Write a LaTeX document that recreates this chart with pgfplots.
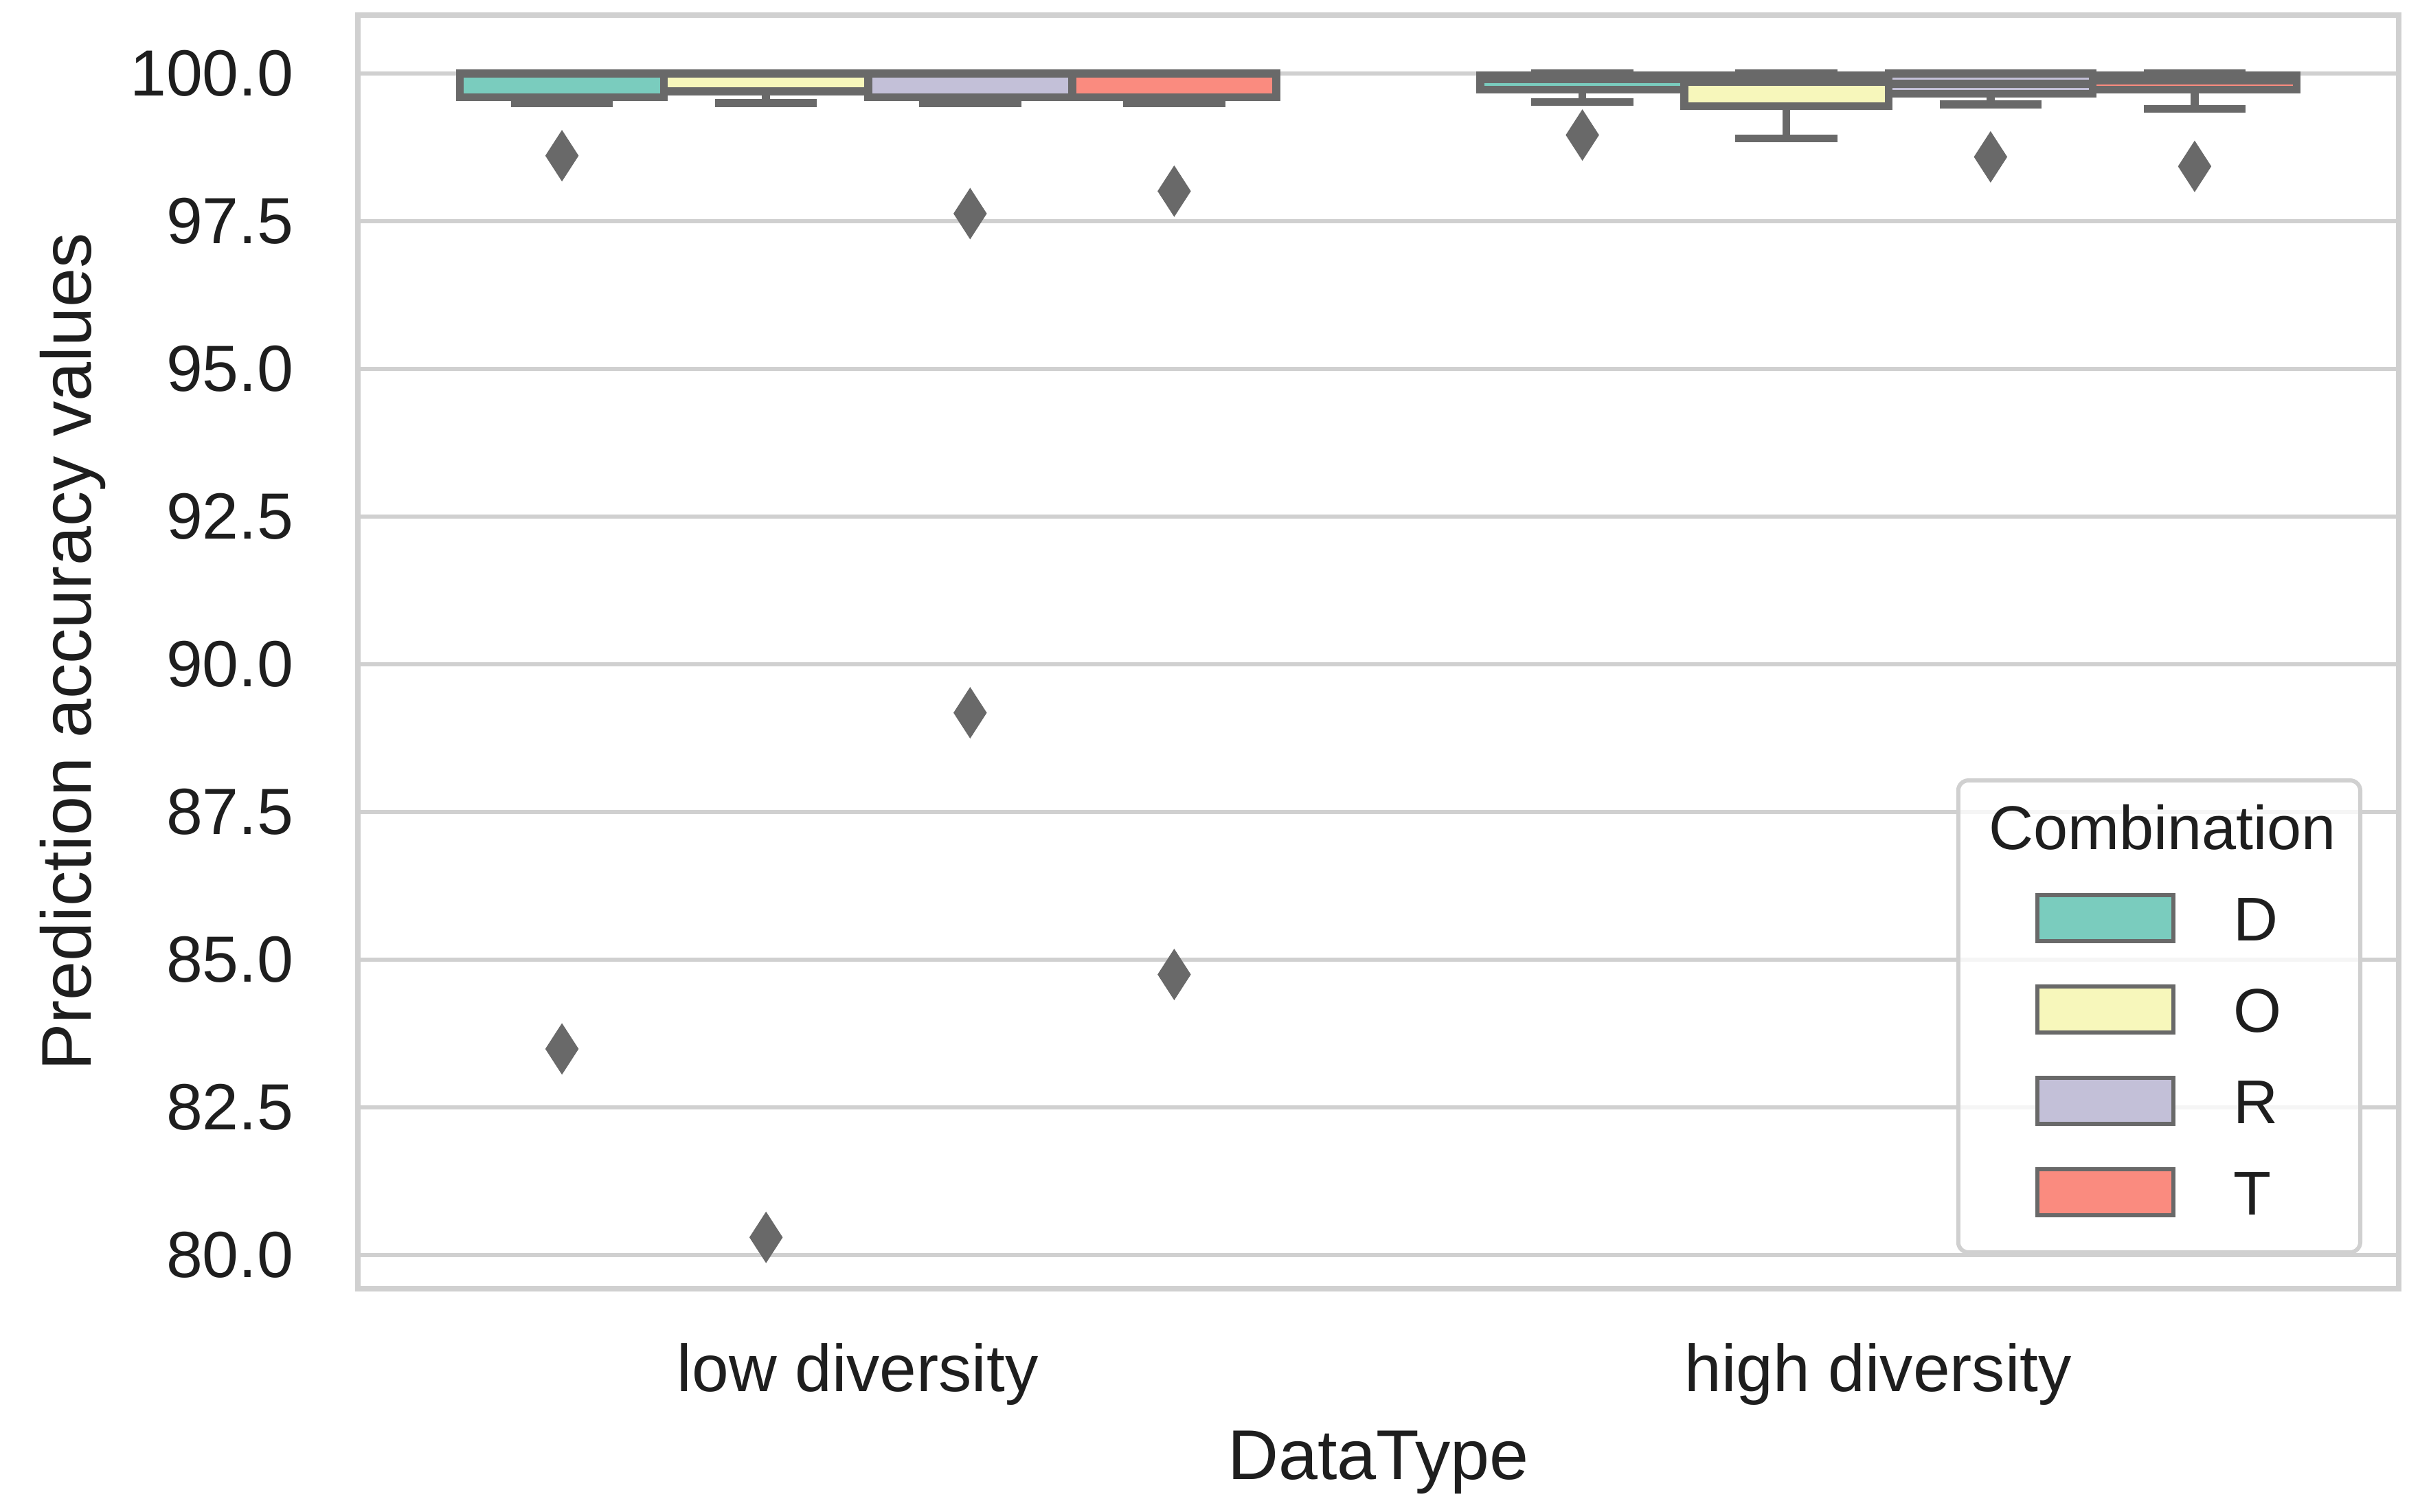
\documentclass[border=0pt]{standalone}
\usepackage{fontspec}
\setmainfont{Liberation Sans}
\usepackage{pgfplots}
\pgfplotsset{compat=1.18}

\definecolor{setD}{RGB}{122,204,190}
\definecolor{setO}{RGB}{247,247,187}
\definecolor{setR}{RGB}{195,192,216}
\definecolor{setT}{RGB}{250,139,127}
\definecolor{boxgray}{RGB}{105,105,105}
\definecolor{gridgray}{RGB}{208,208,208}
\definecolor{txt}{RGB}{30,30,30}

% thin diamond, as seaborn's "d" flier
\pgfdeclareplotmark{thindiamond}{%
  \pgfpathmoveto{\pgfqpoint{0pt}{7.5pt}}%
  \pgfpathlineto{\pgfqpoint{4.85pt}{0pt}}%
  \pgfpathlineto{\pgfqpoint{0pt}{-7.5pt}}%
  \pgfpathlineto{\pgfqpoint{-4.85pt}{0pt}}%
  \pgfpathclose
  \pgfusepathqfill}

\pgfplotsset{
  boxbody/.style={forget plot, fill=#1, draw=boxgray, line width=2.3pt},
  boxline/.style={forget plot, draw=boxgray, line width=2.3pt, mark=none},
  flier/.style={forget plot, only marks, mark=thindiamond, color=boxgray,
    mark options={fill=boxgray}},
  legpatch/.style={legend image code/.code={
    \draw[sharp corners, opacity=1, draw=boxgray, fill=#1, line width=1.2pt]
      (0pt,-4.7pt) rectangle (39.5pt,8.8pt);
    \path (-15.5pt,0pt) (56.5pt,0pt);}},
}

\begin{document}
\begin{tikzpicture}
\begin{axis}[
  name=ax,
  scale only axis, width=594.2pt, height=370.8pt,
  xmin=-0.5, xmax=1.5, ymin=79.43, ymax=100.99,
  unbounded coords=jump,
  xtick={0,1}, xticklabels={low diversity, high diversity},
  ytick={80,82.5,...,100},
  /pgf/number format/assume math mode=true,
  y tick label style={/pgf/number format/fixed, /pgf/number format/fixed zerofill,
    /pgf/number format/precision=1},
  tick style={draw=none},
  ymajorgrids, grid style={gridgray, line width=1.3pt},
  axis line style={gridgray, line width=1.6pt},
  xticklabel style={anchor=base, yshift=-29.8pt, xshift=-3pt, font=\fontsize{19.3}{22}\selectfont, text=txt},
  yticklabel style={anchor=east, inner sep=0pt, xshift=-18.6pt, font=\fontsize{19}{22}\selectfont, text=txt},
  xlabel={DataType}, ylabel={Prediction accuracy values},
  xlabel style={at={(axis description cs:0.5,0)}, anchor=base, inner sep=0pt, yshift=-55.4pt,
    font=\fontsize{20.5}{24}\selectfont, text=txt},
  ylabel style={at={(axis description cs:-0.1306,0.5)}, anchor=base, inner sep=0pt,
    font=\fontsize{20.5}{24}\selectfont, text=txt},
  legend cell align=left,
  legend style={at={(1,0)}, anchor=south east, xshift=-10.6pt, yshift=10pt,
    draw=gridgray, line width=1.2pt, rounded corners=3pt, fill=white, fill opacity=0.8,
    text opacity=1, inner xsep=7pt, inner ysep=6.5pt, row sep=8.2pt,
    nodes={inner sep=0pt, text height=13.5pt, text depth=4.5pt,
      font=\fontsize{18}{21}\selectfont, text=txt}},
]
% ---- low diversity ----
% D: whisker 99.5, Q1 99.6, median 100, Q3 100
\addplot[boxbody=setD] coordinates {(-0.4,99.6) (-0.2,99.6) (-0.2,100) (-0.4,100)} -- cycle;
\addplot[boxline] coordinates {(-0.4,100) (-0.2,100) (nan,nan) (-0.3,99.6) (-0.3,99.5) (nan,nan) (-0.35,99.5) (-0.25,99.5)};
\addplot[flier] coordinates {(-0.3,98.61) (-0.3,83.49)};
% O: whisker 99.5, Q1 99.7, median 100, Q3 100
\addplot[boxbody=setO] coordinates {(-0.2,99.7) (0,99.7) (0,100) (-0.2,100)} -- cycle;
\addplot[boxline] coordinates {(-0.2,100) (0,100) (nan,nan) (-0.1,99.7) (-0.1,99.5) (nan,nan) (-0.15,99.5) (-0.05,99.5)};
\addplot[flier] coordinates {(-0.1,80.3)};
% R
\addplot[boxbody=setR] coordinates {(0,99.6) (0.2,99.6) (0.2,100) (0,100)} -- cycle;
\addplot[boxline] coordinates {(0,100) (0.2,100) (nan,nan) (0.1,99.6) (0.1,99.5) (nan,nan) (0.05,99.5) (0.15,99.5)};
\addplot[flier] coordinates {(0.1,97.63) (0.1,89.18)};
% T
\addplot[boxbody=setT] coordinates {(0.2,99.6) (0.4,99.6) (0.4,100) (0.2,100)} -- cycle;
\addplot[boxline] coordinates {(0.2,100) (0.4,100) (nan,nan) (0.3,99.6) (0.3,99.5) (nan,nan) (0.25,99.5) (0.35,99.5)};
\addplot[flier] coordinates {(0.3,98.01) (0.3,84.75)};
% ---- high diversity ----
% D: 99.52 / 99.73 / 99.9 / 99.97 / 100
\addplot[boxbody=setD] coordinates {(0.6,99.73) (0.8,99.73) (0.8,99.97) (0.6,99.97)} -- cycle;
\addplot[boxline] coordinates {(0.6,99.9) (0.8,99.9) (nan,nan) (0.7,99.73) (0.7,99.52) (nan,nan) (0.65,99.52) (0.75,99.52)
  (nan,nan) (0.7,99.97) (0.7,100) (nan,nan) (0.65,100) (0.75,100)};
\addplot[flier] coordinates {(0.7,98.96)};
% O: 98.9 / 99.45 / 99.86 / 99.97 / 100
\addplot[boxbody=setO] coordinates {(0.8,99.45) (1,99.45) (1,99.97) (0.8,99.97)} -- cycle;
\addplot[boxline] coordinates {(0.8,99.86) (1,99.86) (nan,nan) (0.9,99.45) (0.9,98.9) (nan,nan) (0.85,98.9) (0.95,98.9)
  (nan,nan) (0.9,99.97) (0.9,100) (nan,nan) (0.85,100) (0.95,100)};
% R: 99.48 / 99.66 / 99.83 / 100
\addplot[boxbody=setR] coordinates {(1,99.66) (1.2,99.66) (1.2,100) (1,100)} -- cycle;
\addplot[boxline] coordinates {(1,99.83) (1.2,99.83) (nan,nan) (1.1,99.66) (1.1,99.48) (nan,nan) (1.05,99.48) (1.15,99.48)};
\addplot[flier] coordinates {(1.1,98.59)};
% T: 99.4 / 99.73 / 99.88 / 99.97 / 100
\addplot[boxbody=setT] coordinates {(1.2,99.73) (1.4,99.73) (1.4,99.97) (1.2,99.97)} -- cycle;
\addplot[boxline] coordinates {(1.2,99.88) (1.4,99.88) (nan,nan) (1.3,99.73) (1.3,99.4) (nan,nan) (1.25,99.4) (1.35,99.4)
  (nan,nan) (1.3,99.97) (1.3,100) (nan,nan) (1.25,100) (1.35,100)};
\addplot[flier] coordinates {(1.3,98.43)};

\addlegendimage{empty legend}
\addlegendentry{\hspace*{-71.2pt}Combination}
\addlegendimage{legpatch=setD}
\addlegendentry{D}
\addlegendimage{legpatch=setO}
\addlegendentry{O}
\addlegendimage{legpatch=setR}
\addlegendentry{R}
\addlegendimage{legpatch=setT}
\addlegendentry{T}
\end{axis}
\path ([xshift=-104.2pt, yshift=4.4pt]ax.north west) ([xshift=9.4pt, yshift=-64.8pt]ax.south east);
\end{tikzpicture}
\end{document}
